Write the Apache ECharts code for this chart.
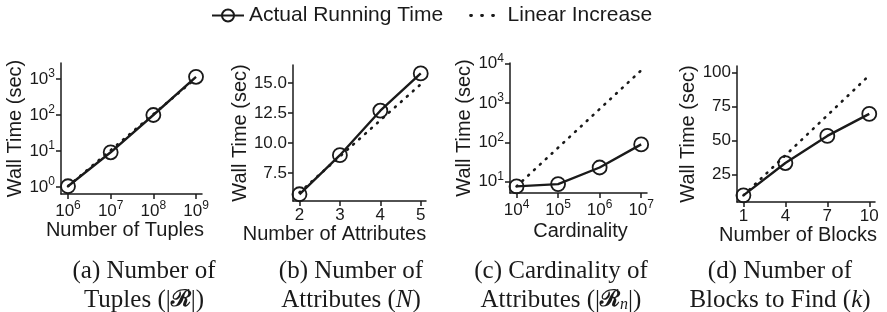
<!DOCTYPE html>
<html>
<head>
<meta charset="utf-8">
<script src="https://cdn.jsdelivr.net/npm/echarts@6/dist/echarts.min.js"></script>
<style>
  html, body { margin: 0; background: #fff; }
  #chart { width: 887px; height: 312px; }
</style>
</head>
<body>
<div id="chart"></div>
<script>
// (a) number of tuples, log-log
const tuplesX = [1e6, 1e7, 1e8, 1e9]
const tuplesTime = [1.05, 9.2, 100, 1150]
const tuplesLinX = [1e6, 1e9]
const tuplesLin = [1.05, 1050]
// (b) number of attributes
const attrX = [2, 3, 4, 5]
const attrTime = [5.75, 9.0, 12.7, 15.8]
const attrLinX = [2, 5]
const attrLin = [5.9, 14.9]
// (c) cardinality, log-log
const cardX = [1e4, 1e5, 1e6, 1e7]
const cardTime = [7.6, 8.7, 23, 89]
const cardLinX = [1e4, 1e7]
const cardLin = [7.6, 6800]
// (d) number of blocks
const blockX = [1, 4, 7, 10]
const blockTime = [9.6, 33.4, 53.4, 69.6]
const blockLinX = [1, 10]
const blockLin = [9.6, 98]

// tick values (exponents for the log panels)
const tuplesXTicks = [6, 7, 8, 9]
const tuplesYTicks = [0, 1, 2, 3]
const attrXTicks = [2, 3, 4, 5]
const attrYTicks = [7.5, 10, 12.5, 15]
const cardXTicks = [4, 5, 6, 7]
const cardYTicks = [1, 2, 3, 4]
const blockXTicks = [1, 4, 7, 10]
const blockYTicks = [25, 50, 75, 100]

const ink = '#1a1a1a'
const sans = 'Liberation Sans'
const serif = 'Liberation Serif'

const pairs = (xs, ys, log) =>
  xs.map((x, i) => (log ? [Math.log10(x), Math.log10(ys[i])] : [x, ys[i]]))

const pow10 = (v) => '{b|10}{s|' + Math.round(v) + '}'
const powRich = {
  b: { fontSize: 17, fontFamily: sans, color: ink },
  s: { fontSize: 12, fontFamily: sans, color: ink, padding: [0, 0, 10, 0] },
}

const axis = (opts) => ({
  type: 'value',
  gridIndex: opts.grid,
  min: opts.min,
  max: opts.max,
  name: opts.name,
  nameLocation: 'middle',
  nameGap: opts.gap,
  nameTextStyle: {
    fontSize: 20,
    fontFamily: sans,
    color: ink,
    padding: opts.pad || 0,
  },
  axisLine: { show: true, onZero: false, lineStyle: { color: ink, width: 1.5 } },
  axisTick: {
    show: true,
    length: 5,
    customValues: opts.ticks,
    lineStyle: { color: ink, width: 1.5 },
  },
  splitLine: { show: false },
  axisLabel: {
    customValues: opts.ticks,
    color: ink,
    fontSize: 17,
    fontFamily: sans,
    margin: opts.margin || 6,
    formatter: opts.fmt,
    rich: opts.fmt === pow10 ? powRich : undefined,
  },
})

const actual = (i, data) => ({
  name: 'Actual Running Time',
  type: 'line',
  xAxisIndex: i,
  yAxisIndex: i,
  data,
  z: 3,
  symbol: 'circle',
  symbolSize: 14,
  lineStyle: { color: ink, width: 2.4 },
  itemStyle: { color: 'transparent', borderColor: ink, borderWidth: 1.8 },
  animation: false,
})

const linear = (i, data) => ({
  name: 'Linear Increase',
  type: 'line',
  xAxisIndex: i,
  yAxisIndex: i,
  data,
  z: 2,
  showSymbol: false,
  symbol: 'none',
  lineStyle: { color: ink, width: 2.6, type: [1, 7], cap: 'round' },
  itemStyle: { color: ink },
  animation: false,
})

const captions = [
  [144, '(a) Number of', 'Tuples (|{r|ℛ}|)'],
  [351, '(b) Number of', 'Attributes ({i|N})'],
  [561, '(c) Cardinality of', 'Attributes (|{r|ℛ}{n|n}|)'],
  [780, '(d) Number of', 'Blocks to Find ({i|k})'],
]
const capRich = {
  r: { fontSize: 23, fontFamily: 'DejaVu Serif', fontWeight: 'bold', color: ink },
  i: { fontSize: 25, fontFamily: serif, fontStyle: 'italic', color: ink },
  n: { fontSize: 16, fontFamily: serif, fontStyle: 'italic', color: ink, padding: [8, 0, 0, 0] },
}

const chart = echarts.init(document.getElementById('chart'), null, { renderer: 'canvas' })
chart.setOption({
  backgroundColor: '#fff',
  animation: false,
  legend: {
    left: 206,
    top: 0,
    itemWidth: 32,
    itemHeight: 15,
    itemGap: 26,
    textStyle: { fontSize: 21, fontFamily: sans, color: ink },
    data: [
      'Actual Running Time',
      {
        name: 'Linear Increase',
        itemStyle: { color: 'transparent', borderWidth: 0, opacity: 0 },
        lineStyle: { type: [1, 10], width: 2.8, cap: 'round' },
      },
    ],
  },
  grid: [
    { left: 61, top: 63, width: 141, height: 131 },
    { left: 293, top: 65, width: 133, height: 136 },
    { left: 510, top: 63, width: 137, height: 130 },
    { left: 737, top: 66, width: 138, height: 136 },
  ],
  xAxis: [
    axis({ grid: 0, min: 5.836, max: 9.14, ticks: tuplesXTicks, fmt: pow10, name: 'Number of Tuples', gap: 26, pad: [0, 13, 0, 0] }),
    axis({ grid: 1, min: 1.84, max: 5.13, ticks: attrXTicks, name: 'Number of Attributes', gap: 21, pad: [0, 50, 0, 0] }),
    axis({ grid: 2, min: 3.843, max: 7.14, ticks: cardXTicks, fmt: pow10, name: 'Cardinality', gap: 28, pad: [0, 0, 0, 4] }),
    axis({ grid: 3, min: 0.54, max: 10.41, ticks: blockXTicks, name: 'Number of Blocks', gap: 22, pad: [0, 16, 0, 0] }),
  ],
  yAxis: [
    axis({ grid: 0, min: -0.194, max: 3.444, ticks: tuplesYTicks, fmt: pow10, name: 'Wall Time (sec)', gap: 36 }),
    axis({ grid: 1, min: 5.19, max: 16.5, ticks: attrYTicks, fmt: (v) => v.toFixed(1), name: 'Wall Time (sec)', gap: 42 }),
    axis({ grid: 2, min: 0.713, max: 4.02, ticks: cardYTicks, fmt: pow10, name: 'Wall Time (sec)', gap: 35 }),
    axis({ grid: 3, min: 4.7, max: 104.9, ticks: blockYTicks, name: 'Wall Time (sec)', gap: 37 }),
  ],
  series: [
    linear(0, pairs(tuplesLinX, tuplesLin, true)),
    actual(0, pairs(tuplesX, tuplesTime, true)),
    linear(1, pairs(attrLinX, attrLin, false)),
    actual(1, pairs(attrX, attrTime, false)),
    linear(2, pairs(cardLinX, cardLin, true)),
    actual(2, pairs(cardX, cardTime, true)),
    linear(3, pairs(blockLinX, blockLin, false)),
    actual(3, pairs(blockX, blockTime, false)),
  ],
  graphic: captions.map(([x, l1, l2]) => ({
    type: 'text',
    x,
    y: 257,
    style: {
      text: l1 + '\n' + l2,
      align: 'center',
      fontSize: 25,
      lineHeight: 29,
      fontFamily: serif,
      fill: ink,
      rich: capRich,
    },
  })),
})
</script>
</body>
</html>
